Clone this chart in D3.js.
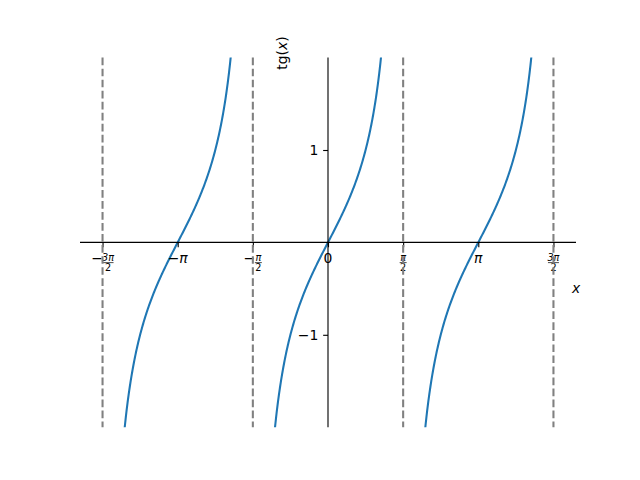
<!DOCTYPE html>
<html>
<head>
<meta charset="utf-8">
<script src="https://cdn.jsdelivr.net/npm/d3@7/dist/d3.min.js"></script>
<style>
  html, body { margin: 0; padding: 0; background: #fff; }
  svg { display: block; font-family: "DejaVu Sans", sans-serif; }
</style>
</head>
<body>
<svg id="chart" width="640" height="480"></svg>
<script>
const PI = Math.PI;
// x tick positions (multiples of pi/2) and their labels
const xTickValues = [-3 * PI / 2, -PI, -PI / 2, 0, PI / 2, PI, 3 * PI / 2];
const xTickLabels = [
  { sign: "−", num: "3π", den: "2" },
  { sign: "−", text: "π", italic: true },
  { sign: "−", num: "π", den: "2" },
  { text: "0" },
  { num: "π", den: "2" },
  { text: "π", italic: true },
  { num: "3π", den: "2" }
];
const yTickValues = [-1, 1];
const yTickLabels = ["−1", "1"];
// asymptote positions (dashed)
const asymptotes = [-3 * PI / 2, -PI / 2, PI / 2, 3 * PI / 2];
// branches of tg(x) between asymptotes
const branches = [[-3 * PI / 2, -PI / 2], [-PI / 2, PI / 2], [PI / 2, 3 * PI / 2]];
const xDomain = [-3 * PI / 2 - 0.15 * PI, 3 * PI / 2 + 0.15 * PI];
const yDomain = [-2, 2];

const svg = d3.select("#chart");
const pL = 80, pR = 576, pT = 57.6, pB = 427.2;
const x = d3.scaleLinear().domain(xDomain).range([pL, pR]);
const y = d3.scaleLinear().domain(yDomain).range([pB, pT]);

svg.append("defs").append("clipPath").attr("id", "clip")
  .append("rect").attr("x", pL).attr("y", pT).attr("width", pR - pL).attr("height", pB - pT);

// curve
const line = d3.line().x(d => x(d[0])).y(d => y(d[1]));
const plot = svg.append("g").attr("clip-path", "url(#clip)");
branches.forEach(([a, b]) => {
  const n = 400;
  const pts = [];
  for (let i = 1; i < n; i++) {
    const xv = a + (b - a) * i / n;
    const yv = Math.tan(xv);
    if (Math.abs(yv) < 10) pts.push([xv, yv]);
  }
  plot.append("path").datum(pts).attr("d", line)
    .attr("fill", "none").attr("stroke", "#1f77b4").attr("stroke-width", 2.08)
    .attr("stroke-linejoin", "round").attr("stroke-linecap", "square");
});

// axes at zero
const x0 = x(0), y0 = y(0);
const xAxis = d3.axisBottom(x).tickValues(xTickValues).tickSize(4.86).tickFormat("");
const gx = svg.append("g").attr("transform", `translate(0,${y0})`).call(xAxis);
gx.select(".domain").attr("stroke", "#000").attr("stroke-width", 1.11).attr("d", `M${pL},0H${pR}`);
gx.selectAll(".tick line").attr("stroke", "#000").attr("stroke-width", 1.11);

const yAxis = d3.axisLeft(y).tickValues(yTickValues).tickSize(4.86).tickFormat((d, i) => yTickLabels[i]).tickPadding(4.86);
const gy = svg.append("g").attr("transform", `translate(${x0},0)`).call(yAxis);
gy.select(".domain").attr("stroke", "#000").attr("stroke-width", 1.11).attr("d", `M0,${pT}V${pB}`);
gy.selectAll(".tick line").attr("stroke", "#000").attr("stroke-width", 1.11);
gy.selectAll(".tick text").attr("font-size", "13.9px").attr("font-family", "DejaVu Sans").attr("fill", "#000");

// x tick labels (mathtext-like)
const labTop = y0 + 4.86 + 4.86;
xTickValues.forEach((v, i) => {
  const L = xTickLabels[i];
  const g = svg.append("g").attr("transform", `translate(${x(v)},0)`);
  if (L.text !== undefined) {
    const t = g.append("text").attr("y", labTop + 11).attr("font-size", "13.9px")
      .attr("text-anchor", "middle").attr("fill", "#000");
    if (L.sign) t.append("tspan").text(L.sign);
    t.append("tspan").attr("font-style", L.italic ? "italic" : "normal").text(L.text);
  } else {
    const fs = 9.7;
    const fracW = L.num.length > 1 ? 11 : 7;
    let cx = 0;
    if (L.sign) {
      const signW = 9;
      cx = signW / 2 + 1;
      g.append("text").attr("x", cx - fracW / 2 - 1 - signW / 2).attr("y", labTop + 11)
        .attr("font-size", "13.9px").attr("text-anchor", "middle").attr("fill", "#000").text(L.sign);
    }
    g.append("text").attr("x", cx).attr("y", labTop + 8.5).attr("font-size", fs + "px")
      .attr("text-anchor", "middle").attr("font-style", "italic").attr("fill", "#000").text(L.num);
    g.append("line").attr("x1", cx - fracW / 2).attr("x2", cx + fracW / 2)
      .attr("y1", labTop + 10.5).attr("y2", labTop + 10.5).attr("stroke", "#000").attr("stroke-width", 0.7);
    g.append("text").attr("x", cx).attr("y", labTop + 19).attr("font-size", fs + "px")
      .attr("text-anchor", "middle").attr("fill", "#000").text(L.den);
  }
});

// dashed asymptotes
svg.append("g").selectAll("line").data(asymptotes).join("line")
  .attr("x1", d => x(d)).attr("x2", d => x(d)).attr("y1", pT).attr("y2", pB)
  .attr("stroke", "#808080").attr("stroke-width", 2.08).attr("stroke-dasharray", "7.7,3.33");

// axis labels
svg.append("text").attr("x", 576).attr("y", 293).attr("font-size", "13.9px")
  .attr("text-anchor", "middle").attr("font-style", "italic").attr("fill", "#000").text("x");
const yl = svg.append("text").attr("transform", "translate(287,53) rotate(-90)")
  .attr("font-size", "13.9px").attr("text-anchor", "middle").attr("fill", "#000");
yl.append("tspan").text("tg(");
yl.append("tspan").attr("font-style", "italic").text("x");
yl.append("tspan").text(")");
</script>
</body>
</html>
